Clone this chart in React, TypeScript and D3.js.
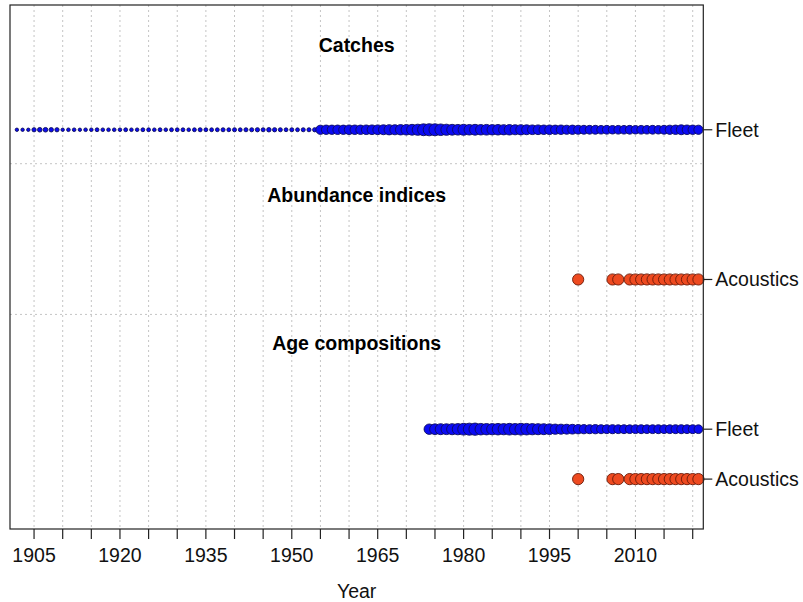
import React from "react";
import * as d3 from "d3";

// Catch series (Fleet), 1902–2021
const catchYears: number[] = d3.range(1902, 2022);
const catchValues: number[] = [
  7, 7, 7,
  11, 13, 13, 12, 11,
  7, 8, 8, 7, 8, 8, 9, 8, 8, 8,
  8, 9, 8, 8, 9, 9, 8, 9, 8, 9,
  9, 9, 8, 9, 10, 9, 9, 9, 10, 9,
  10, 9, 10, 10, 11, 10, 12, 11, 10, 9,
  10, 9, 10, 10, 11,
  52, 54, 53, 55, 53, 56, 55, 54, 56, 57,
  58, 60, 64, 62, 66, 68, 72, 76,
  86, 90, 88, 82, 76,
  72, 70, 74, 68, 72, 67, 70, 66, 68, 64, 67, 62, 64,
  60, 57, 58, 55, 56, 53, 55, 51, 53, 50,
  48, 47, 48, 45, 47, 44, 46, 45, 47, 44, 46, 45, 47, 44, 48,
  52, 54, 60, 56, 54, 52,
];

// Acoustic survey years (abundance index and age compositions)
const acousticYears: number[] = [2000, 2006, 2007, 2009, 2010, 2011, 2012, 2013, 2014, 2015, 2016, 2017, 2018, 2019, 2020, 2021];
const acousticAgeN: number[] = [80, 80, 80, 80, 80, 80, 80, 80, 80, 80, 80, 80, 80, 80, 80, 80];

// Fishery age compositions (Fleet), 1974–2021, sample sizes
const fleetAgeYears: number[] = d3.range(1974, 2022);
const fleetAgeN: number[] = [
  68, 72, 76, 74, 78, 80,
  88, 92, 95, 84, 82, 80,
  84, 80, 86, 82, 88, 84, 80, 78, 76, 72,
  66, 64, 62, 60, 56, 54, 52, 54, 51, 50,
  52, 49, 50, 48, 49, 50, 48, 49, 50, 48,
  49, 50, 51, 49, 50, 48,
];

const tickYears: number[] = d3.range(1905, 2021, 5);
const labelYears: number[] = d3.range(1905, 2021, 15);

const sectionTitles: string[] = ["Catches", "Abundance indices", "Age compositions"];

const W = 803;
const H = 602;
const left = 10;
const right = 703.3;
const top = 5;
const bottom = 529;

const FONT = "'Liberation Sans', Arial, Helvetica, sans-serif";
const BLUE = "#0a0af2";
const BLUE_EDGE = "#0b0b5c";
const RED = "#ee4a20";
const RED_EDGE = "#6a1a08";

export default function App() {
  const x = d3.scaleLinear().domain([1900.8, 2021.85]).range([left, right]);
  const y = d3.scaleLinear().domain([0, 10.5]).range([bottom, top]);

  const rCatch = d3.scaleSqrt().domain([0, 100]).range([0, 6.4]);
  const rAge = d3.scaleSqrt().domain([0, 100]).range([0, 6.3]);
  const rIndex = 5.6;

  // row positions (in row units)
  const rowCatchFleet = 8;
  const rowIndexAcoustic = 5;
  const rowAgeFleet = 2;
  const rowAgeAcoustic = 1;
  const separators = [7.32, 4.3];
  const titleRows = [9.69, 6.69, 3.73];

  const rightLabels = [
    { row: rowCatchFleet, text: "Fleet" },
    { row: rowIndexAcoustic, text: "Acoustics" },
    { row: rowAgeFleet, text: "Fleet" },
    { row: rowAgeAcoustic, text: "Acoustics" },
  ];

  return (
    <svg
      width={W}
      height={H}
      style={{ position: "absolute", left: 0, top: 0, background: "#fff" }}
      fontFamily={FONT}
    >
      <rect x={0} y={0} width={W} height={H} fill="#fff" />
      {/* vertical grid */}
      {tickYears.map((t) => (
        <line
          key={"g" + t}
          x1={x(t)}
          x2={x(t)}
          y1={top}
          y2={bottom}
          stroke="#c4c4c4"
          strokeWidth={1}
          strokeDasharray="2,3"
        />
      ))}
      {/* section separators */}
      {separators.map((s) => (
        <line
          key={"s" + s}
          x1={left}
          x2={right}
          y1={y(s)}
          y2={y(s)}
          stroke="#c4c4c4"
          strokeWidth={1}
          strokeDasharray="2,3"
        />
      ))}
      {/* section titles */}
      {sectionTitles.map((t, i) => (
        <text
          key={t}
          x={(left + right) / 2}
          y={y(titleRows[i]) + 7}
          textAnchor="middle"
          fontWeight="bold"
          fontSize={19.5}
          fill="#000"
        >
          {t}
        </text>
      ))}
      {/* catches */}
      {catchYears.map((yr, i) => (
        <circle
          key={"c" + yr}
          cx={x(yr)}
          cy={y(rowCatchFleet)}
          r={rCatch(catchValues[i])}
          fill={BLUE}
          stroke={BLUE_EDGE}
          strokeWidth={0.9}
        />
      ))}
      {/* abundance index */}
      {acousticYears.map((yr) => (
        <circle
          key={"i" + yr}
          cx={x(yr)}
          cy={y(rowIndexAcoustic)}
          r={rIndex}
          fill={RED}
          stroke={RED_EDGE}
          strokeWidth={0.9}
        />
      ))}
      {/* fishery age comps */}
      {fleetAgeYears.map((yr, i) => (
        <circle
          key={"af" + yr}
          cx={x(yr)}
          cy={y(rowAgeFleet)}
          r={rAge(fleetAgeN[i])}
          fill={BLUE}
          stroke={BLUE_EDGE}
          strokeWidth={0.9}
        />
      ))}
      {/* survey age comps */}
      {acousticYears.map((yr, i) => (
        <circle
          key={"aa" + yr}
          cx={x(yr)}
          cy={y(rowAgeAcoustic)}
          r={rAge(acousticAgeN[i])}
          fill={RED}
          stroke={RED_EDGE}
          strokeWidth={0.9}
        />
      ))}
      {/* plot box */}
      <rect
        x={left}
        y={top}
        width={right - left}
        height={bottom - top}
        fill="none"
        stroke="#222"
        strokeWidth={1.2}
      />
      {/* bottom axis */}
      {tickYears.map((t) => (
        <line key={"t" + t} x1={x(t)} x2={x(t)} y1={bottom} y2={bottom + 10} stroke="#222" strokeWidth={1.2} />
      ))}
      {labelYears.map((t) => (
        <text key={"l" + t} x={x(t)} y={562} textAnchor="middle" fontSize={19.5} fill="#111">
          {t}
        </text>
      ))}
      <text x={(left + right) / 2} y={598} textAnchor="middle" fontSize={19.5} fill="#111">
        Year
      </text>
      {/* right axis */}
      {rightLabels.map((d, i) => (
        <g key={"r" + i}>
          <line x1={right} x2={right + 9} y1={y(d.row)} y2={y(d.row)} stroke="#222" strokeWidth={1.2} />
          <text x={right + 12} y={y(d.row) + 7} fontSize={19.5} fill="#111">
            {d.text}
          </text>
        </g>
      ))}
    </svg>
  );
}
